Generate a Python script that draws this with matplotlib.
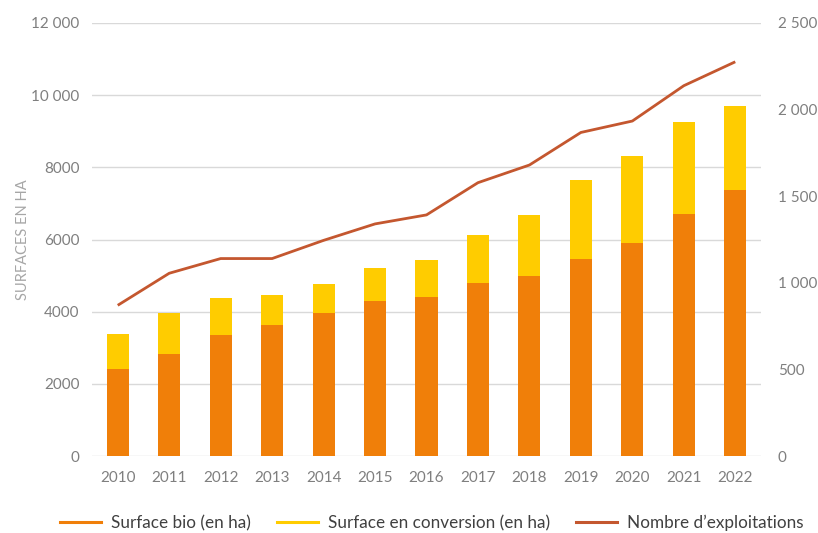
import matplotlib
matplotlib.use("Agg")
from matplotlib import pyplot as plt
from matplotlib.lines import Line2D
import numpy as np

# data
annees = ['2010', '2011', '2012', '2013', '2014', '2015', '2016',
          '2017', '2018', '2019', '2020', '2021', '2022']
surface_bio = [2410, 2830, 3350, 3630, 3960, 4300, 4410,
               4800, 4990, 5460, 5910, 6710, 7370]
surface_totale = [3370, 3970, 4390, 4470, 4770, 5210, 5440,
                  6130, 6680, 7650, 8320, 9260, 9700]
surface_conversion = [t - b for t, b in zip(surface_totale, surface_bio)]
nb_exploitations = [870, 1055, 1140, 1140, 1245, 1340, 1392,
                    1578, 1680, 1868, 1934, 2138, 2276]

left_ticks = [0, 2000, 4000, 6000, 8000, 10000, 12000]
left_labels = ['0', '2000', '4000', '6000', '8000', '10 000', '12 000']
right_ticks = [0, 500, 1000, 1500, 2000, 2500]
right_labels = ['0', '500', '1 000', '1 500', '2 000', '2 500']

c_bio = '#F07F09'
c_conv = '#FFCC00'
c_line = '#C4572F'
c_txt = '#7F7F7F'

plt.rcParams['font.family'] = ['Lato', 'DejaVu Sans']

fig = plt.figure(figsize=(8.18, 5.33), dpi=100)
ax1 = fig.add_axes([92 / 818, 77 / 533, 669 / 818, 433 / 533])
ax2 = ax1.twinx()

x = np.arange(len(annees))
ax1.bar(x, surface_bio, width=0.43, color=c_bio, zorder=2)
ax1.bar(x, surface_conversion, width=0.43, bottom=surface_bio, color=c_conv, zorder=2)
ax2.plot(x, nb_exploitations, color=c_line, lw=2.0, solid_capstyle='butt')

ax1.set_xlim(-0.5, len(annees) - 0.5)
ax1.set_ylim(0, 12000)
ax2.set_ylim(0, 2500)
ax1.set_yticks(left_ticks, left_labels)
ax2.set_yticks(right_ticks, right_labels)
ax1.set_xticks(x, annees)

ax1.grid(axis='y', color='#D9D9D9', lw=1.0, zorder=0)
for ax in (ax1, ax2):
    for s in ax.spines.values():
        s.set_visible(False)
    ax.tick_params(length=0, labelsize=11, labelcolor=c_txt)
ax1.tick_params(axis='y', pad=9)
ax2.tick_params(axis='y', pad=12)
ax1.tick_params(axis='x', pad=11)

ax1.set_ylabel('SURFACES EN HA', color='#A6A6A6', fontsize=10.5, labelpad=1)

handles = [Line2D([], [], color=c_bio, lw=2.2),
           Line2D([], [], color=c_conv, lw=2.2),
           Line2D([], [], color=c_line, lw=2.2)]
fig.legend(handles, ['Surface bio (en ha)', 'Surface en conversion (en ha)',
                     "Nombre d\u2019exploitations"],
           loc='center', bbox_to_anchor=(0.528, 10 / 533), ncol=3, frameon=False,
           fontsize=12.3, handlelength=2.4, columnspacing=1.5, handletextpad=0.6,
           labelcolor='#404040')

fig.savefig('out.png', dpi=100)
